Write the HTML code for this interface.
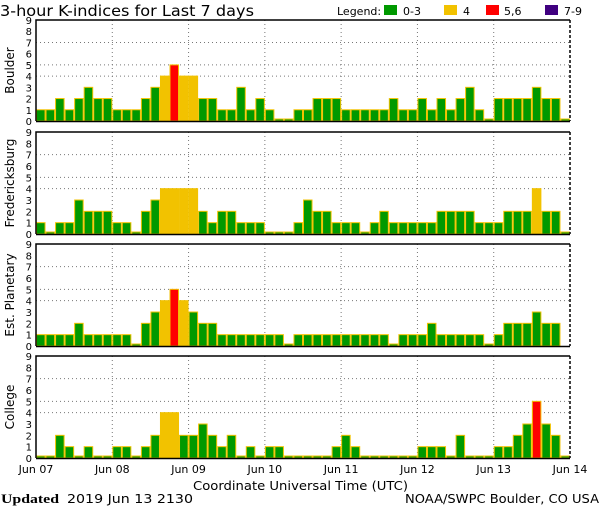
<!DOCTYPE html>
<html><head><meta charset="utf-8"><style>
body{margin:0;background:#fff;}
svg{display:block;font-family:"DejaVu Sans","Liberation Sans",sans-serif;}
</style></head><body>
<svg id="chart" width="600" height="510" xmlns="http://www.w3.org/2000/svg">
<text x="0" y="16" font-size="15" textLength="254" lengthAdjust="spacingAndGlyphs">3-hour K-indices for Last 7 days</text>
<g font-size="11">
<text x="337" y="15">Legend:</text>
<rect x="384" y="5" width="13" height="10" fill="#009900"/>
<text x="403" y="15">0-3</text>
<rect x="444" y="5" width="13" height="10" fill="#f2c200"/>
<text x="463" y="15">4</text>
<rect x="486" y="5" width="13" height="10" fill="#ff0000"/>
<text x="504" y="15">5,6</text>
<rect x="545" y="5" width="13" height="10" fill="#400080"/>
<text x="564" y="15">7-9</text>
</g>
<text x="193" y="490" font-size="12" textLength="215" lengthAdjust="spacingAndGlyphs">Coordinate Universal Time (UTC)</text>
<text x="1" y="503" font-size="12"><tspan font-family="Liberation Serif,serif" font-weight="bold" font-size="13" textLength="58" lengthAdjust="spacingAndGlyphs">Updated</tspan><tspan x="67" textLength="126" lengthAdjust="spacingAndGlyphs">2019 Jun 13 2130</tspan></text>
<text x="405" y="503" font-size="12" textLength="194" lengthAdjust="spacingAndGlyphs">NOAA/SWPC Boulder, CO USA</text>
</svg>
<script>
const stations = ["Boulder","Fredericksburg","Est. Planetary","College"];
const dayLabels = ["Jun 07","Jun 08","Jun 09","Jun 10","Jun 11","Jun 12","Jun 13","Jun 14"];
const yTicks = [0,1,2,3,4,5,6,7,8,9];
const gridLevels = [4,5,7];
const boulder = [1,1,2,1,2,3,2,2, 1,1,1,2,3,4,5,4, 4,2,2,1,1,3,1,2, 1,0,0,1,1,2,2,2, 1,1,1,1,1,2,1,1, 2,1,2,1,2,3,1,0, 2,2,2,2,3,2,2,0];
const fredericksburg = [1,0,1,1,3,2,2,2, 1,1,0,2,3,4,4,4, 4,2,1,2,2,1,1,1, 0,0,0,1,3,2,2,1, 1,1,0,1,2,1,1,1, 1,1,2,2,2,2,1,1, 1,2,2,2,4,2,2,0];
const planetary = [1,1,1,1,2,1,1,1, 1,1,0,2,3,4,5,4, 3,2,2,1,1,1,1,1, 1,1,0,1,1,1,1,1, 1,1,1,1,1,0,1,1, 1,2,1,1,1,1,1,0, 1,2,2,2,3,2,2,null];
const college = [0,0,2,1,0,1,0,0, 1,1,0,1,2,4,4,2, 2,3,2,1,2,0,1,0, 1,1,0,0,0,0,0,1, 2,1,0,0,0,0,0,0, 1,1,1,0,2,0,0,0, 1,1,2,3,5,3,2,0];
const series = [boulder,fredericksburg,planetary,college];

const svg = document.getElementById('chart');
const NS = 'http://www.w3.org/2000/svg';
const panels = [[20,121],[132,234],[244,346],[356,458]];
const X0 = 36, X1 = 570;
const nBars = 56;
const bw = (X1-X0)/nBars;
function xPos(i){return X0 + i*bw;}
function dayX(d){return X0 + d*(X1-X0)/7;}
function mk(tag, attrs){const e=document.createElementNS(NS,tag);for(const k in attrs)e.setAttribute(k,attrs[k]);svg.appendChild(e);return e;}
function color(v){return v>=7?'#400080':v>=5?'#ff0000':v===4?'#f2c200':'#009900';}

series.forEach((data,p)=>{
  const [top,bot]=panels[p];
  const yScale = v => bot - v*(bot-top)/9;
  gridLevels.forEach(g=>{
    const l=mk('line',{x1:X0,x2:X1,y1:yScale(g),y2:yScale(g),stroke:'#777','stroke-dasharray':'1,3'});
    
    
  });
  for(let d=1;d<7;d++){
    const l=mk('line',{x1:dayX(d),x2:dayX(d),y1:top,y2:bot,stroke:'#777','stroke-dasharray':'1,3'});
    
    
  }
  data.forEach((v,i)=>{
    if(v===null) return;
    const h=Math.max(v*(bot-top)/9,2);
    const r=mk('rect',{x:xPos(i)+0.5,y:bot-h,width:bw-1,height:h,fill:color(v),stroke:'#f2c200','stroke-width':1});
    
    
  });
  const f=mk('path',{d:`M${X0},${bot} V${top} H${X1}`,fill:'none',stroke:'#000','stroke-width':1.5});
  
  
  const rb=mk('line',{x1:X1,x2:X1,y1:top,y2:bot,stroke:'#000','stroke-dasharray':'3,2','stroke-width':1.5});
  
  
  const bl=mk('line',{x1:X0,x2:X1,y1:bot+0.5,y2:bot+0.5,stroke:'#000','stroke-width':1.5});
  
  
  yTicks.forEach(t=>{
    const tx=mk('text',{x:32,y:yScale(t)+4,'font-size':10,'text-anchor':'end'});
    tx.textContent=t;
    
    
  });
  const cy=(top+bot)/2;
  const yt=mk('text',{x:14,y:cy,'font-size':12,'text-anchor':'middle',transform:`rotate(-90 14 ${cy})`});
  yt.textContent=stations[p];
  
  
});
dayLabels.forEach((lab,d)=>{
  const t=mk('text',{x:dayX(d),y:473,'font-size':11,'text-anchor':'middle'});
  t.textContent=lab;
  
  
});
</script>
</body></html>
